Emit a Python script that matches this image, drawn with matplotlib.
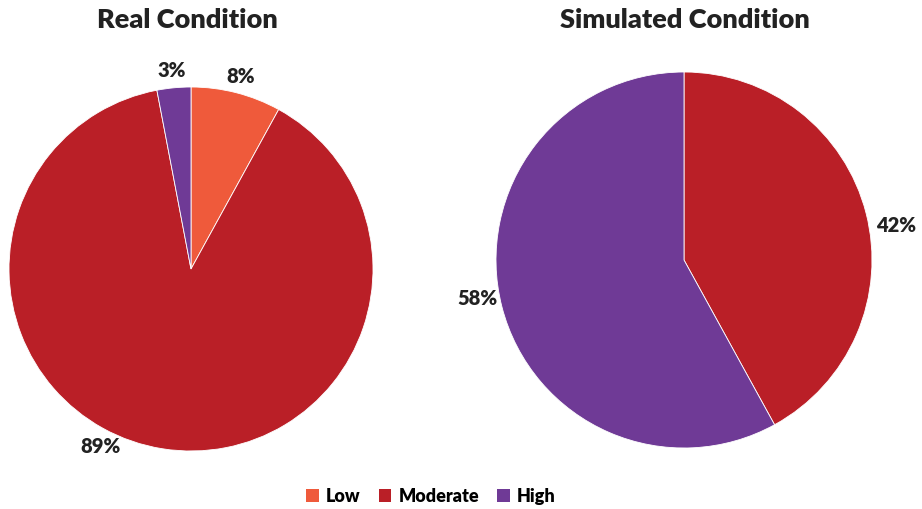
import matplotlib.pyplot as plt
from matplotlib.patches import Patch

plt.rcParams['font.family'] = ['Lato', 'DejaVu Sans']

# Share of each condition level
categories = ["Low", "Moderate", "High"]
real_values = [8, 89, 3]
simulated_values = [0, 42, 58]
colors = ["#EF5A3B", "#BA1F27", "#6F3A96"]

fig = plt.figure(figsize=(9.22, 5.10), dpi=100)

ax1 = fig.add_axes([9 / 922, 58 / 510, 364 / 922, 364 / 510])
ax2 = fig.add_axes([496 / 922, 61 / 510, 376 / 922, 376 / 510])


def draw_pie(ax, values, pct_dist):
    wedges, _, autotexts = ax.pie(
        values, colors=colors, startangle=90, counterclock=False,
        autopct=lambda p: f"{p:.0f}%" if p > 0 else "",
        pctdistance=pct_dist,
        wedgeprops=dict(edgecolor="white", linewidth=0.6),
        textprops=dict(fontsize=14.5, fontweight="heavy", color="#222222"),
    )
    ax.set_xlim(-1, 1)
    ax.set_ylim(-1, 1)
    ax.set_aspect("equal")
    return autotexts


real_labels = draw_pie(ax1, real_values, 1.1)
sim_labels = draw_pie(ax2, simulated_values, 1.17)

# Excel-style label placement (labels sit off the slice midpoints)
real_labels[1].set_position((-0.5, -0.97))
sim_labels[1].set_position((1.13, 0.19))
sim_labels[2].set_position((-1.1, -0.2))

fig.text(187 / 922, 1 - 20 / 510, "Real Condition", ha="center", va="center",
         fontsize=19.5, fontweight="heavy", color="#222222")
fig.text(685 / 922, 1 - 20 / 510, "Simulated Condition", ha="center", va="center",
         fontsize=19.5, fontweight="heavy", color="#222222")

handles = [Patch(facecolor=c, label=l) for c, l in zip(colors, categories)]
fig.legend(handles=handles, loc="center", bbox_to_anchor=(431 / 922, 1 - 497 / 510),
           ncol=3, frameon=False, handlelength=0.7, handleheight=0.7,
           handletextpad=0.4, columnspacing=1.0,
           prop=dict(size=13, weight="heavy"))

fig.savefig("out.png", dpi=100)
